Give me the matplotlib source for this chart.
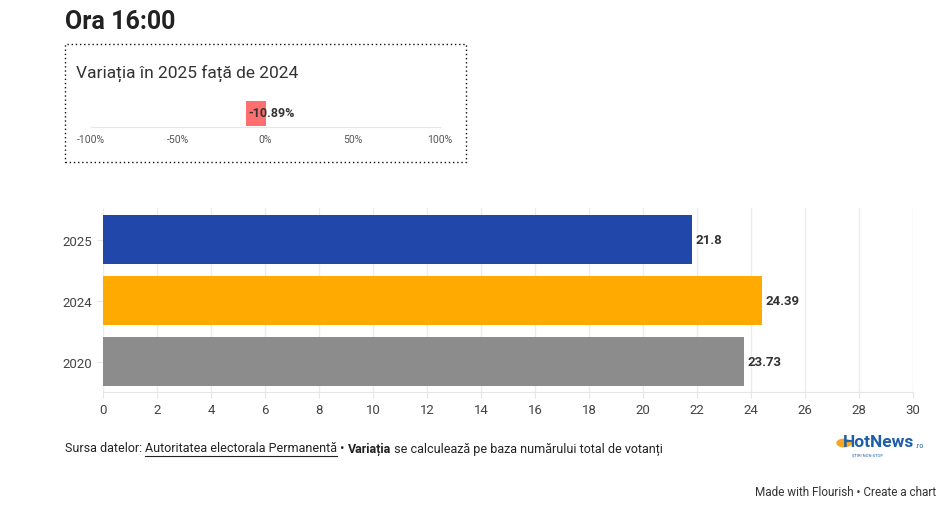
import matplotlib.pyplot as plt
from matplotlib.patches import Rectangle, Circle

# Data
years = ["2025", "2024", "2020"]
turnout = [21.8, 24.39, 23.73]
bar_colors = ["#2147ab", "#ffaa00", "#8c8c8c"]
variation = -10.89
x_ticks = list(range(0, 31, 2))
var_ticks = [-100, -50, 0, 50, 100]

plt.rcParams['font.family'] = ['Roboto', 'DejaVu Sans']

fig = plt.figure(figsize=(9.48, 5.10), dpi=100)
W, H = 948, 510

def fx(px):
    return px / W

def fy(py):
    return 1 - py / H

# Title
fig.text(fx(65), fy(22), "Ora 16:00", fontsize=18, fontweight='bold',
         color='#222222', va='center', ha='left')

# Dotted box around the variation widget
box = Rectangle((fx(65), fy(163)), fx(466 - 65), (163 - 45) / H,
                transform=fig.transFigure, fill=False, linestyle=(0, (1, 2)),
                linewidth=1.0, edgecolor='#111111')
fig.add_artist(box)
fig.text(fx(76), fy(73), "Variația în 2025 față de 2024", fontsize=12.5,
         color='#333333', va='center', ha='left')

# Small variation axis
axv = fig.add_axes([fx(91), fy(128), fx(440 - 91), (128 - 98) / H])
axv.barh([0], [variation], height=0.85, color='#ff6f6f', align='edge')
axv.set_xlim(-100, 100)
axv.set_ylim(-0.05, 1.0)
axv.set_xticks(var_ticks)
axv.set_xticklabels([f"{t}%" for t in var_ticks], fontsize=7.5, color='#555555')
axv.tick_params(axis='x', length=0, pad=5)
axv.set_yticks([])
for s in ['top', 'left', 'right']:
    axv.spines[s].set_visible(False)
axv.spines['bottom'].set_color('#e6e6e6')
axv.text(variation + 1.0, 0.45, f"{variation:.2f}%", fontsize=9, fontweight='bold',
         color='#333333', ha='left', va='center')

# Main bar chart
ax = fig.add_axes([fx(103), fy(393), fx(913 - 103), (393 - 209) / H])
ypos = list(range(len(years)))
ax.barh(ypos, turnout, height=0.8, color=bar_colors, zorder=2)
ax.set_xlim(0, 30)
ax.set_ylim(2.5, -0.52)
ax.set_xticks(x_ticks)
ax.set_xticklabels([str(t) for t in x_ticks], fontsize=9.5, color='#444444')
ax.set_yticks(ypos)
ax.set_yticklabels(years, fontsize=9.5, color='#444444')
ax.tick_params(axis='x', length=4, color='#e6e6e6', pad=4)
ax.tick_params(axis='y', length=4, color='#e6e6e6', pad=4)
ax.grid(axis='x', color='#ececec', linewidth=1, zorder=0)
for s in ['top', 'left', 'right']:
    ax.spines[s].set_visible(False)
ax.spines['bottom'].set_color('#e6e6e6')
for i, v in enumerate(turnout):
    ax.text(v + 0.15, i, f"{v:g}", fontsize=9.5, fontweight='bold', color='#333333',
            va='center', ha='left')

# Footer with mixed styles
fig.canvas.draw()
renderer = fig.canvas.get_renderer()
parts = [
    ("Sursa datelor: ", 'normal', False),
    ("Autoritatea electorala Permanentă", 'normal', True),
    (" • ", 'normal', False),
    ("Variația", 'bold', False),
    (" se calculează pe baza numărului total de votanți", 'normal', False),
]
xcur = 65
for txt, weight, underline in parts:
    t = fig.text(fx(xcur), fy(449), txt, fontsize=9, fontweight=weight,
                 color='#222222', va='center', ha='left')
    bb = t.get_window_extent(renderer=renderer)
    if underline:
        fig.add_artist(plt.Line2D([fx(xcur), fx(xcur + bb.width)], [fy(457), fy(457)],
                                  transform=fig.transFigure, color='#222222', linewidth=0.8))
    xcur += bb.width

# HotNews logo
fig.add_artist(Circle((fx(844), fy(444)), 7 / W, transform=fig.transFigure,
                      color='#f5a623', zorder=1))
fig.text(fx(843), fy(443), "HotNews", fontsize=12.5, fontweight='bold', color='#1f5fa8',
         va='center', ha='left', zorder=2)
fig.text(fx(916), fy(447), ".ro", fontsize=5, color='#1f5fa8', va='center', ha='left')
fig.text(fx(868), fy(455), "ȘTIRI NON-STOP", fontsize=3, color='#1f5fa8', va='center', ha='center')

fig.text(fx(936), fy(493), "Made with Flourish • Create a chart", fontsize=8.5,
         color='#333333', va='center', ha='right')

fig.savefig("out.png", dpi=100)
